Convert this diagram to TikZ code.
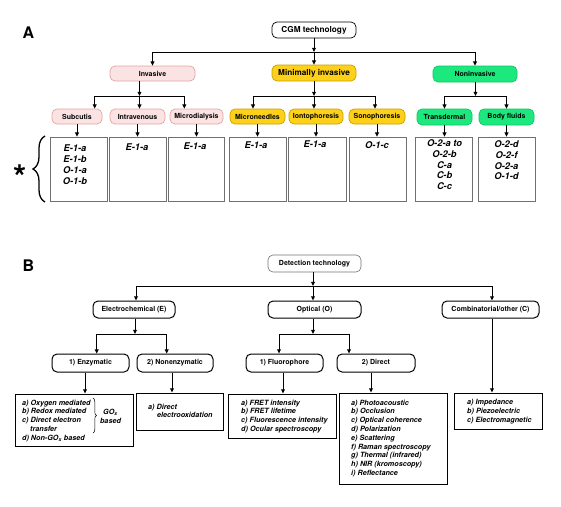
\documentclass[tikz,border=0pt]{standalone}
\usepackage{fontspec}
\setmainfont{TeX Gyre Heros}
\usetikzlibrary{arrows.meta,positioning,decorations.pathreplacing}
\definecolor{pinkF}{HTML}{FCE3E3}
\definecolor{pinkD}{HTML}{E2A3A3}
\definecolor{yelF}{HTML}{FDD11A}
\definecolor{yelD}{HTML}{C9A000}
\definecolor{grnF}{HTML}{1CE87E}
\definecolor{grnD}{HTML}{10C466}
\definecolor{boxD}{HTML}{707070}
\begin{document}
\begin{tikzpicture}[x=1pt,y=-1pt,
  arr/.style={-{Triangle[length=4.2pt,width=3.8pt]}, line width=1pt},
  rnode/.style={rounded corners=5pt, inner sep=0pt, line width=0.7pt, draw},
  fA/.style={font=\fontsize{7}{8}\selectfont\bfseries},
  fAbig/.style={font=\fontsize{8.2}{9}\selectfont\bfseries},
  pinkn/.style={rnode, fA, fill=pinkF, draw=pinkD, minimum height=15pt},
  yeln/.style={rnode, fA, fill=yelF, draw=yelD, minimum height=15pt},
  grnn/.style={rnode, fA, fill=grnF, draw=grnD, minimum height=16pt},
  codebox/.style={draw=boxD, line width=0.7pt, minimum width=57pt, minimum height=64pt, inner sep=0pt},
  codetxt/.style={inner sep=0pt, align=center, anchor=north, font=\fontsize{9.3}{10.8}\selectfont\bfseries\itshape},
  bnode/.style={rnode, fA, line width=1pt, minimum height=17pt},
  listbox/.style={draw, line width=1pt, inner sep=0pt},
  listtxt/.style={inner sep=0pt, align=left, anchor=north west, font=\fontsize{7.2}{8.8}\selectfont\bfseries\itshape},
  panel/.style={font=\fontsize{16}{16}\selectfont\bfseries, inner sep=0pt, anchor=base}
]
\useasboundingbox (0,0) rectangle (561,506);

% ---------------- Panel A ----------------
\node[panel] (lA) at (28.5,38.5) {A};
\node[rnode, fAbig, fill=white, minimum width=84pt, minimum height=16pt] (cgm) at (314,30) {CGM technology};

\node[pinkn, minimum width=85pt] (inv) at (152.5,73.5) {Invasive};
\node[rnode, fAbig, fill=yelF, draw=yelD, minimum width=84pt, minimum height=16pt] (mi) at (314,73) {Minimally invasive};
\node[grnn, minimum width=84pt] (ni) at (475,74) {Noninvasive};

\coordinate (jA) at (314,52);
\draw[arr] (cgm) -- (jA);
\draw[arr] (jA) -| (inv.north);
\draw[arr] (jA) -- (mi.north);
\draw[arr] (jA) -| (ni.north);

\node[pinkn, minimum width=50pt] (sub) at (77,116.5) {Subcutis};
\node[pinkn, minimum width=55pt] (iv) at (137.5,116.5) {Intravenous};
\node[pinkn, minimum width=53pt] (md) at (196.5,116.5) {Microdialysis};
\node[yeln, minimum width=55pt] (mn) at (257.5,116.5) {Microneedles};
\node[yeln, minimum width=54pt] (io) at (316,116.5) {Iontophoresis};
\node[yeln, minimum width=56pt] (so) at (377,116.5) {Sonophoresis};
\node[grnn, minimum width=55pt] (td) at (444.5,117) {Transdermal};
\node[grnn, minimum width=55pt] (bf) at (506.5,117) {Body fluids};

% invasive group
\coordinate (jI) at (139.5,96);
\draw[arr] (inv.south -| jI) -- (jI);
\draw[arr] (jI) -| (sub.north -| 94.7,0);
\draw[arr] (jI) -- (iv.north -| jI);
\draw[arr] (jI) -| (md.north -| 184.3,0);
% minimally invasive group
\coordinate (jM) at (314,96);
\draw[arr] (mi) -- (jM);
\draw[arr] (jM) -| (mn.north -| 253,0);
\draw[arr] (jM) -- (io.north -| jM);
\draw[arr] (jM) -| (so.north -| 375,0);
% noninvasive group
\coordinate (jN) at (475.5,96);
\draw[arr] (ni.south -| jN) -- (jN);
\draw[arr] (jN) -| (td.north);
\draw[arr] (jN) -| (bf.north);

% code boxes
\node[codebox] (b1) at (78.5,169) {};
\node[codebox] (b2) at (137.5,169) {};
\node[codebox, minimum width=56pt] (b3) at (196,169) {};
\node[codebox] (b4) at (257.5,169) {};
\node[codebox, minimum width=58pt] (b5) at (317,169) {};
\node[codebox] (b6) at (377.5,169) {};
\node[codebox] (b7) at (443.5,169) {};
\node[codebox] (b8) at (506.5,169) {};

\foreach \c/\b in {sub/b1, iv/b2, md/b3, mn/b4, io/b5, so/b6, td/b7, bf/b8}
  \draw[arr] (\c.south) -- (\c.south |- \b.north);

\node[codetxt] (t1) at (75,145) {E-1-a\\E-1-b\\O-1-a\\O-1-b};
\node[codetxt] (t2) at (137,143.5) {E-1-a};
\node[codetxt] (t3) at (195,142.5) {E-1-a};
\node[codetxt] (t4) at (256,142) {E-1-a};
\node[codetxt] (t5) at (315,141) {E-1-a};
\node[codetxt] (t6) at (377,141) {O-1-c};
\node[codetxt] (t7) at (444.5,139.5) {O-2-a to\\O-2-b\\C-a\\C-b\\C-c};
\node[codetxt] (t8) at (506.5,140.5) {O-2-d\\O-2-f\\O-2-a\\O-1-d};

\draw[decorate, decoration={brace, amplitude=12pt}, line width=1.3pt] (45,202) -- (45,136);
\node[inner sep=0pt, anchor=base, font=\fontsize{34}{34}\selectfont\bfseries] (star) at (20,189) {*};

% ---------------- Panel B ----------------
\node[panel] (lB) at (28.5,271.5) {B};
\node[rnode, fA, draw=boxD, line width=0.6pt, minimum width=93pt, minimum height=17pt] (det) at (314.5,263.5) {Detection technology};

\node[bnode, minimum width=82pt] (ec) at (134,309.5) {Electrochemical (E)};
\node[bnode, minimum width=93pt] (op) at (314.5,309.5) {Optical (O)};
\node[bnode, minimum width=97pt] (co) at (490.5,309.5) {Combinatorial/other (C)};

\coordinate (jB) at (313,286);
\draw[arr] (det.south -| jB) -- (jB);
\draw[arr] (jB) -| (ec.north -| 136,0);
\draw[arr] (jB) -- (op.north -| jB);
\draw[arr] (jB) -| (co.north -| 492,0);

\node[bnode, minimum width=77pt, minimum height=18pt] (enz) at (90.5,363) {1) Enzymatic};
\node[bnode, minimum width=76pt, minimum height=18pt] (nenz) at (175,363) {2) Nonenzymatic};
\node[bnode, minimum width=77pt, minimum height=18pt] (fl) at (284.5,363) {1) Fluorophore};
\node[bnode, minimum width=78pt, minimum height=18pt] (dir) at (376,363) {2) Direct};

\coordinate (jE) at (135,334);
\draw[arr] (ec.south -| jE) -- (jE);
\draw[arr] (jE) -| (enz.north -| 96.7,0);
\draw[arr] (jE) -| (nenz.north -| 166.7,0);
\coordinate (jO) at (313,334);
\draw[arr] (op.south -| jO) -- (jO);
\draw[arr] (jO) -| (fl.north -| 279,0);
\draw[arr] (jO) -| (dir.north -| 349,0);

% list boxes
\node[listbox, minimum width=118pt, minimum height=52pt] (eb) at (74,420) {};
\node[listbox, minimum width=87pt, minimum height=37pt] (nb) at (179.5,411.5) {};
\node[listbox, minimum width=108pt, minimum height=44pt] (fb) at (282,416) {};
\node[listbox, minimum width=108pt, minimum height=91pt] (db) at (393,438.5) {};
\node[listbox, minimum width=88pt, minimum height=36pt] (cb) at (498,411) {};

\draw[arr] (enz.south -| 85,0) -- (eb.north -| 85,0);
\draw[arr] (nenz.south -| 172,0) -- (nb.north -| 172,0);
\draw[arr] (fl.south -| 283,0) -- (fb.north -| 283,0);
\draw[arr] (dir.south -| 371,0) -- (db.north -| 371,0);
\draw[arr] (co.south -| 492,0) -- (cb.north -| 492,0);

\node[listtxt] (et) at (22,399.5) {a) Oxygen mediated\\b) Redox mediated\\c) Direct electron\\\hspace*{8pt}transfer\\d) Non-GO\textsubscript{x} based};
\draw[decorate, decoration={brace, amplitude=3.5pt}, line width=0.5pt] (93,398) -- (93,433);
\node[listtxt, anchor=center] (gox) at (110.5,412) {GO\textsubscript{x}};
\node[listtxt, anchor=center] (gob) at (110.5,421) {based};

\node[listtxt] (nt) at (148,403.5) {a) Direct\\\hspace*{9pt}electrooxidation};
\node[listtxt] (ft) at (241,399.5) {a) FRET intensity\\b) FRET lifetime\\c) Fluorescence intensity\\d) Ocular spectroscopy};
\node[listtxt] (dt) at (351,399.5) {a) Photoacoustic\\b) Occlusion\\c) Optical coherence\\d) Polarization\\e) Scattering\\f) Raman spectroscopy\\g) Thermal (infrared)\\h) NIR (kromoscopy)\\i) Reflectance};
\node[listtxt] (ct) at (467,399.5) {a) Impedance\\b) Piezoelectric\\c) Electromagnetic};
\end{tikzpicture}
\end{document}
